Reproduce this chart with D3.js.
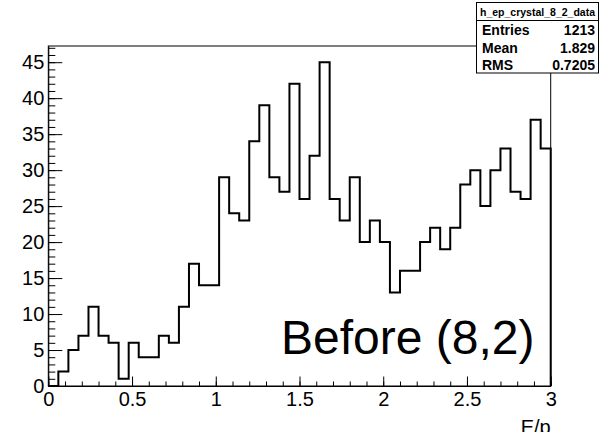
<!DOCTYPE html>
<html>
<head>
<meta charset="utf-8">
<script src="https://cdn.jsdelivr.net/npm/d3@7"></script>
<style>
  html, body { margin: 0; padding: 0; background: #fff; }
  svg { display: block; }
  text { font-family: "Liberation Sans", Arial, Helvetica, sans-serif; fill: #000; }
</style>
</head>
<body>
<svg id="chart" width="608" height="432"></svg>
<script>
// ---- data ----
const histName = "h_ep_crystal_8_2_data";
const xRange = [0, 3];
const binCounts = [0, 2, 5, 7, 11, 7, 6, 1, 6, 4,
                   4, 7, 6, 11, 17, 14, 14, 29, 24, 23,
                   34, 39, 29, 27, 42, 26, 32, 45, 26, 23,
                   29, 20, 23, 20, 13, 16, 16, 20, 22, 19,
                   22, 28, 30, 25, 30, 33, 27, 26, 37, 33];
const xTickLabels = [0, 0.5, 1, 1.5, 2, 2.5, 3];
const yTickLabels = [0, 5, 10, 15, 20, 25, 30, 35, 40, 45];
const statLabels = ["Entries", "Mean", "RMS"];
const statValues = ["1213", "1.829", "0.7205"];
const xTitle = "E/p";
const annotation = "Before (8,2)";

// ---- layout ----
const svg = d3.select("#chart");
const pLeft = 48.3, pRight = 550.7, pTop = 46, pBottom = 386;
const yMax = d3.max(binCounts) * 1.05;

const x = d3.scaleLinear().domain(xRange).range([pLeft, pRight]);
const y = d3.scaleLinear().domain([0, yMax]).range([pBottom, pTop]);

// frame
svg.append("rect")
  .attr("x", pLeft).attr("y", pTop)
  .attr("width", pRight - pLeft).attr("height", pBottom - pTop)
  .attr("fill", "#fff").attr("stroke", "#000").attr("stroke-width", 1);

// histogram outline
const nb = binCounts.length;
const bw = (xRange[1] - xRange[0]) / nb;
const pts = [[xRange[0], 0]];
binCounts.forEach((v, i) => pts.push([xRange[0] + i * bw, v]));
pts.push([xRange[1], binCounts[nb - 1]]);
pts.push([xRange[1], 0]);

const line = d3.line()
  .x(d => x(d[0]))
  .y(d => y(d[1]))
  .curve(d3.curveStepAfter);

svg.append("path")
  .attr("d", line(pts))
  .attr("fill", "none")
  .attr("stroke", "#000")
  .attr("stroke-width", 2);

// y axis: minor ticks
const yMinor = d3.range(0, Math.floor(yMax) + 1);
svg.append("g")
  .attr("transform", `translate(${pLeft},0)`)
  .call(d3.axisLeft(y).tickValues(yMinor).tickSize(-7).tickSizeOuter(0).tickFormat(""))
  .call(g => g.select(".domain").remove());

// y axis: major ticks + labels
svg.append("g")
  .attr("transform", `translate(${pLeft},0)`)
  .call(d3.axisLeft(y).tickValues(yTickLabels).tickSize(-14).tickSizeOuter(0).tickPadding(4)
        .tickFormat(d3.format("d")))
  .call(g => g.select(".domain").attr("stroke", "#000"))
  .call(g => g.selectAll("text").attr("font-size", 20)
        .attr("font-family", "Liberation Sans, Arial, sans-serif"));

// x axis: minor ticks
const xMinor = d3.range(0, 31).map(i => i / 10);
svg.append("g")
  .attr("transform", `translate(0,${pBottom})`)
  .call(d3.axisBottom(x).tickValues(xMinor).tickSize(-4.5).tickSizeOuter(0).tickFormat(""))
  .call(g => g.select(".domain").remove());

// x axis: major ticks + labels
svg.append("g")
  .attr("transform", `translate(0,${pBottom})`)
  .call(d3.axisBottom(x).tickValues(xTickLabels).tickSize(-9.5).tickSizeOuter(0).tickPadding(6)
        .tickFormat(d => String(d)))
  .call(g => g.select(".domain").attr("stroke", "#000"))
  .call(g => g.selectAll("text").attr("font-size", 20)
        .attr("font-family", "Liberation Sans, Arial, sans-serif"));

// x title
svg.append("text")
  .attr("x", pRight).attr("y", 434)
  .attr("text-anchor", "end")
  .attr("font-size", 20)
  .text(xTitle);

// annotation
svg.append("text")
  .attr("x", 281).attr("y", 354)
  .attr("font-size", 48)
  .text(annotation);

// stats box
const bx = 476.5, by = 2.5, bwid = 122, bh = 70.5;
svg.append("rect")
  .attr("x", bx).attr("y", by).attr("width", bwid).attr("height", bh)
  .attr("fill", "#fff").attr("stroke", "#000").attr("stroke-width", 1);
svg.append("line")
  .attr("x1", bx).attr("x2", bx + bwid)
  .attr("y1", 20.5).attr("y2", 20.5)
  .attr("stroke", "#000").attr("stroke-width", 1);
svg.append("text")
  .attr("x", bx + bwid / 2).attr("y", 16)
  .attr("text-anchor", "middle")
  .attr("font-size", 10.5).attr("font-weight", "bold")
  .text(histName);
const rowY = [35, 52.5, 70];
statLabels.forEach((lab, i) => {
  svg.append("text")
    .attr("x", 482).attr("y", rowY[i])
    .attr("font-size", 14).attr("font-weight", "bold")
    .text(lab);
  svg.append("text")
    .attr("x", 595).attr("y", rowY[i])
    .attr("text-anchor", "end")
    .attr("font-size", 14).attr("font-weight", "bold")
    .text(statValues[i]);
});
</script>
</body>
</html>
